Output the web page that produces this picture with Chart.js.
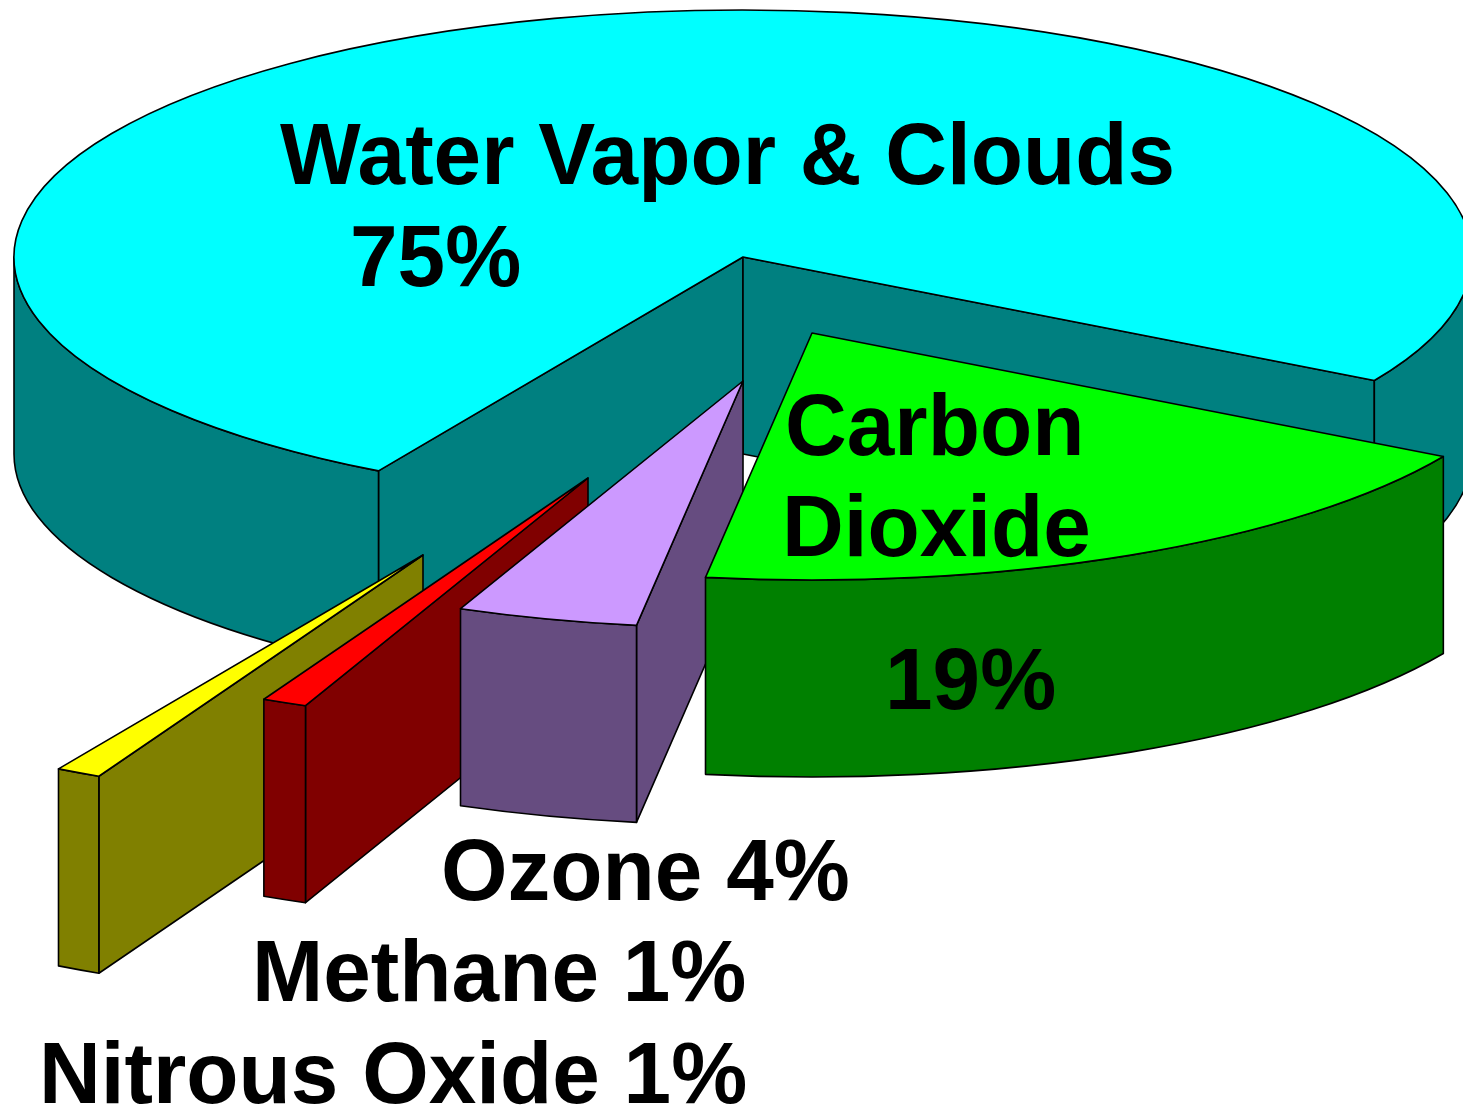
<!DOCTYPE html>
<html>
<head>
<meta charset="utf-8">
<title>Greenhouse gases</title>
<style>
  html, body { margin: 0; background: #fff; }
  canvas { display: block; }
</style>
<script src="https://cdn.jsdelivr.net/npm/chart.js@4"></script>
</head>
<body>
<canvas id="myChart" width="1463" height="1110"></canvas>
<script>
const categories = ['Water Vapor & Clouds', 'Carbon Dioxide', 'Ozone', 'Methane', 'Nitrous Oxide'];
const shares = [75, 19, 4, 1, 1];
const topColors = ['#00ffff', '#00ff00', '#cc99ff', '#ff0000', '#ffff00'];
const sideColors = ['#008080', '#008000', '#664c80', '#800000', '#808000'];

// how far each slice is pulled out of the pie, in page pixels
const pullX = [0, 69, 0, -155, -320];
const pullY = [0, 76, 124, 221, 298];
// back to front
const paintOrder = [0, 4, 3, 2, 1];

const labels = [
  { text: 'Water Vapor & Clouds', x: 280, y: 184 },
  { text: '75%', x: 350, y: 286 },
  { text: 'Carbon', x: 785, y: 455 },
  { text: 'Dioxide', x: 782, y: 556 },
  { text: '19%', x: 885, y: 709 },
  { text: 'Ozone 4%', x: 441, y: 900 },
  { text: 'Methane 1%', x: 252, y: 1001 },
  { text: 'Nitrous Oxide 1%', x: 39, y: 1103 }
];

const centerX = 743, centerY = 257, radiusX = 729, radiusY = 247, depth = 197;
const squash = radiusY / radiusX;
const textStretch = 0.972;

function tilt(ctx, chart) {
  const area = chart.chartArea;
  const midX = (area.left + area.right) / 2, midY = (area.top + area.bottom) / 2;
  ctx.translate(centerX - midX, centerY - midY * squash);
  ctx.scale(1, squash);
}

// fill + stroke a path built in tilted coordinates, so the line keeps an even width
function paintPath(ctx, chart, build, fill) {
  ctx.save();
  ctx.save();
  tilt(ctx, chart);
  ctx.beginPath();
  build();
  ctx.closePath();
  ctx.restore();
  if (fill) {
    ctx.fillStyle = fill;
    ctx.fill();
  }
  ctx.strokeStyle = '#000';
  ctx.lineWidth = 1.6;
  ctx.lineJoin = 'round';
  ctx.stroke();
  ctx.restore();
}

function drawWalls(ctx, chart, arc, color) {
  const { x, y, startAngle, endAngle, outerRadius: r } = arc;
  const drop = depth / squash;

  // flat cut faces
  [[startAngle, startAngle - Math.PI / 2], [endAngle, endAngle + Math.PI / 2]].forEach(([a, normal]) => {
    if (Math.sin(normal) <= 0) return;
    paintPath(ctx, chart, () => {
      ctx.moveTo(x, y);
      ctx.lineTo(x + r * Math.cos(a), y + r * Math.sin(a));
      ctx.lineTo(x + r * Math.cos(a), y + r * Math.sin(a) + drop);
      ctx.lineTo(x, y + drop);
    }, color);
  });

  // curved outer wall, only the part facing the viewer
  [[0, Math.PI], [2 * Math.PI, 3 * Math.PI]].forEach(([from, to]) => {
    const a = Math.max(startAngle, from), b = Math.min(endAngle, to);
    if (b <= a) return;
    paintPath(ctx, chart, () => {
      ctx.arc(x, y, r, a, b);
      ctx.arc(x, y + drop, r, b, a, true);
    }, color);
  });
}

const tiltedPie = {
  id: 'tiltedPie',
  afterDatasetsUpdate(chart) {
    chart.getDatasetMeta(0).data.forEach((arc, i) => {
      arc.x += pullX[i];
      arc.y += pullY[i] / squash;
    });
  },
  beforeDatasetDraw(chart, args) {
    const ctx = chart.ctx;
    const arcs = args.meta.data;
    paintOrder.forEach(i => {
      const arc = arcs[i];
      drawWalls(ctx, chart, arc, sideColors[i]);
      ctx.save();
      tilt(ctx, chart);
      arc.draw(ctx, chart.chartArea);
      ctx.restore();
      paintPath(ctx, chart, () => {
        ctx.moveTo(arc.x, arc.y);
        ctx.arc(arc.x, arc.y, arc.outerRadius, arc.startAngle, arc.endAngle);
      });
    });
    return false;
  },
  afterDraw(chart) {
    const ctx = chart.ctx;
    ctx.save();
    ctx.fillStyle = '#000';
    ctx.font = 'bold 88px "Liberation Sans", Arial, sans-serif';
    ctx.textAlign = 'left';
    ctx.textBaseline = 'alphabetic';
    labels.forEach(l => {
      ctx.save();
      ctx.translate(l.x, l.y);
      ctx.scale(textStretch, 1);
      ctx.fillText(l.text, 0, 0);
      ctx.restore();
    });
    ctx.restore();
  }
};

const myChart = new Chart(document.getElementById('myChart'), {
  type: 'pie',
  data: {
    labels: categories,
    datasets: [{
      data: shares,
      backgroundColor: topColors,
      borderWidth: 0
    }]
  },
  options: {
    responsive: false,
    animation: false,
    events: [],
    rotation: 210,
    radius: radiusX,
    plugins: {
      legend: { display: false },
      tooltip: { enabled: false }
    }
  },
  plugins: [tiltedPie]
});
</script>
</body>
</html>
